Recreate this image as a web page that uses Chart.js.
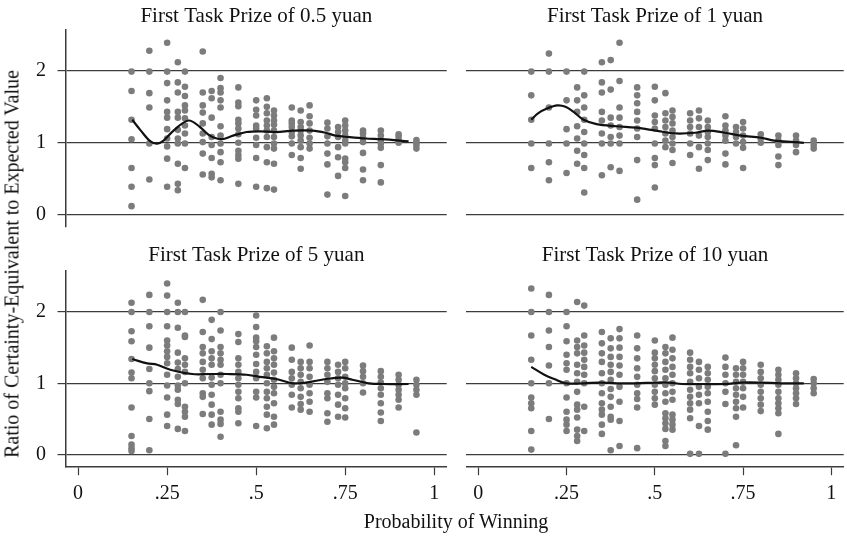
<!DOCTYPE html>
<html>
<head>
<meta charset="utf-8">
<script src="https://cdn.jsdelivr.net/npm/chart.js@4.4.1/dist/chart.umd.min.js"></script>
<style>
html,body{margin:0;padding:0;background:#fff;}
#wrap{position:relative;width:847px;height:536px;overflow:hidden;background:#fff;font-family:"Liberation Serif","Times New Roman",serif;color:#111;}
canvas{position:absolute;}
.ytitle{position:absolute;left:12px;top:264px;transform:translate(-50%,-50%) rotate(-90deg);white-space:nowrap;font-size:20px;line-height:normal;}
.xtitle{position:absolute;left:456px;top:521px;transform:translate(-50%,-50%);white-space:nowrap;font-size:20px;line-height:normal;}
</style>
</head>
<body>
<div id="wrap">
  <canvas id="cTL" width="430" height="232" style="left:20px;top:0px;"></canvas>
  <canvas id="cTR" width="384" height="232" style="left:463px;top:0px;"></canvas>
  <canvas id="cBL" width="430" height="301" style="left:20px;top:235px;"></canvas>
  <canvas id="cBR" width="384" height="301" style="left:463px;top:235px;"></canvas>
  <div class="ytitle" id="ytitle"></div>
  <div class="xtitle" id="xtitle"></div>
</div>
<script>
// ---------- data ----------
const panelTitles = ["First Task Prize of 0.5 yuan", "First Task Prize of 1 yuan", "First Task Prize of 5 yuan", "First Task Prize of 10 yuan"];
const yAxisTitle = "Ratio of Certainty-Equivalent to Expected Value";
const xAxisTitle = "Probability of Winning";
const xTicks = [0, 0.25, 0.5, 0.75, 1];
const xTickLabels = ["0", ".25", ".5", ".75", "1"];
const yTicks = [0, 1, 2];
const yTickLabels = ["0", "1", "2"];

// probabilities of winning (x categories)
const probs = [0.15, 0.2, 0.25, 0.28, 0.3, 0.35, 0.375, 0.4, 0.45, 0.5, 0.53, 0.55, 0.6, 0.625, 0.65, 0.7, 0.73, 0.75, 0.8, 0.85, 0.9, 0.95];

// ratios per probability, prize 0.5 yuan
const ceHalf = [
  [1.99,1.72,1.32,1.05,0.65,0.39,0.12],
  [2.28,1.99,1.69,1.49,0.99,0.49],
  [2.39,1.99,1.83,1.59,1.43,1.35,1.19,1.06,0.95,0.78,0.39],
  [2.12,1.84,1.70,1.43,1.35,1.18,1.06,0.99,0.71,0.43,0.34],
  [1.99,1.78,1.65,1.52,1.45,1.34,1.24,1.13,0.99,0.65],
  [2.27,1.70,1.52,1.42,1.27,1.13,1.01,0.85,0.56],
  [1.72,1.62,1.35,1.08,0.97,0.79,0.57,0.52],
  [1.90,1.76,1.70,1.59,1.49,1.23,1.10,0.99,0.87,0.73,0.48],
  [1.77,1.56,1.51,1.32,1.27,1.20,1.12,1.00,0.89,0.83,0.78,0.43],
  [1.59,1.46,1.38,1.24,1.20,1.07,0.97,0.79,0.39],
  [1.62,1.50,1.41,1.31,1.24,1.17,1.08,0.94,0.73,0.37],
  [1.45,1.38,1.31,1.25,1.17,1.08,0.99,0.92,0.71,0.35],
  [1.49,1.31,1.27,1.22,1.15,1.09,0.99,0.83],
  [1.45,1.29,1.22,1.17,1.10,1.03,0.94,0.79,0.64],
  [1.52,1.37,1.27,1.17,1.07,0.99,0.92],
  [1.28,1.20,1.09,0.99,0.85,0.70,0.28],
  [1.22,1.15,1.08,0.94,0.80,0.54],
  [1.31,1.24,1.17,1.10,1.03,0.99,0.78,0.73,0.65,0.26],
  [1.17,1.13,1.07,1.01,0.86,0.63,0.48],
  [1.17,1.10,1.03,0.99,0.93,0.69,0.45],
  [1.12,1.08,1.03,1.00],
  [1.04,1.00,0.97,0.92]
];
// prize 1 yuan
const ceOne = [
  [1.99,1.66,1.32,0.99,0.65],
  [2.24,1.99,1.49,0.99,0.73,0.48],
  [1.99,1.59,1.19,0.99,0.58],
  [1.77,1.59,1.43,1.23,1.06,0.89,0.71],
  [1.99,1.66,1.49,1.32,1.15,0.99,0.83,0.65,0.31],
  [2.12,1.84,1.70,1.43,1.31,1.13,0.99,0.55],
  [2.15,1.74,1.35,1.24,1.08,0.99,0.66],
  [2.39,1.86,1.49,1.35,1.22,1.10,0.99,0.61],
  [1.77,1.66,1.55,1.43,1.31,1.20,1.08,0.76,0.21],
  [1.78,1.59,1.38,1.29,1.20,0.99,0.79,0.69,0.38],
  [1.69,1.41,1.31,1.22,1.13,1.03,0.94],
  [1.45,1.36,1.27,1.17,1.08,0.99,0.90,0.72],
  [1.41,1.31,1.22,1.13,0.99,0.83],
  [1.45,1.34,1.22,1.10,0.94,0.64],
  [1.31,1.22,1.15,1.08,0.99,0.90,0.76],
  [1.37,1.24,1.17,1.10,1.03,0.85,0.70],
  [1.22,1.15,1.08,0.99],
  [1.29,1.20,1.10,1.01,0.93,0.65],
  [1.12,1.06,1.00],
  [1.10,1.03,0.97,0.81,0.69],
  [1.10,1.03,0.97,0.87],
  [1.03,0.97,0.92]
];
// prize 5 yuan
const ceFive = [
  [2.13,2.00,1.73,1.59,1.34,1.15,1.07,0.66,0.26,0.14,0.09,0.05],
  [2.24,2.00,1.80,1.50,1.20,1.00,0.89,0.50,0.06],
  [2.40,2.23,2.00,1.80,1.60,1.53,1.45,1.37,1.28,1.12,0.97,0.80,0.56,0.40],
  [2.13,2.00,1.78,1.43,1.29,1.20,1.09,0.97,0.91,0.77,0.71,0.36],
  [2.00,1.67,1.65,1.35,1.26,1.16,1.00,0.67,0.60,0.53,0.33],
  [2.17,1.72,1.51,1.42,1.30,1.19,1.07,0.86,0.81,0.57],
  [1.89,1.62,1.45,1.35,1.26,1.08,0.98,0.84,0.70,0.56,0.42],
  [2.00,1.74,1.51,1.42,1.33,1.26,1.12,1.00,0.60,0.49,0.43,0.25],
  [1.69,1.58,1.35,1.26,1.16,1.07,0.98,0.88,0.79,0.65,0.60,0.44],
  [1.95,1.79,1.64,1.59,1.51,1.40,1.27,1.16,1.07,0.88,0.80,0.40],
  [1.52,1.42,1.30,1.21,1.12,1.00,0.88,0.79,0.67,0.56,0.37],
  [1.64,1.45,1.35,1.26,1.15,1.05,0.95,0.86,0.72,0.53,0.42],
  [1.50,1.33,1.16,1.07,0.98,0.84,0.66],
  [1.30,1.21,1.12,1.02,0.93,0.81,0.71,0.63],
  [1.53,1.30,1.21,1.09,0.98,0.86,0.74,0.60],
  [1.30,1.21,1.12,1.02,0.86,0.79,0.58,0.46],
  [1.26,1.16,1.07,0.98,0.84,0.70,0.53],
  [1.30,1.21,1.09,1.00,0.93,0.79,0.65,0.52],
  [1.25,1.17,1.09,1.00,0.87],
  [1.17,1.09,1.01,0.93,0.84,0.72,0.59,0.47],
  [1.12,1.05,0.98,0.91,0.84,0.77,0.66],
  [1.05,0.98,0.91,0.84,0.31]
];
// prize 10 yuan
const ceTen = [
  [2.33,2.00,1.67,1.33,1.00,0.80,0.72,0.65,0.33,0.07],
  [2.24,2.00,1.74,1.51,1.25,1.00,0.50],
  [2.00,1.80,1.59,1.40,1.28,1.19,1.00,0.80,0.60,0.49,0.42,0.33],
  [2.14,1.60,1.51,1.42,1.26,1.14,1.02,0.88,0.70,0.63,0.52,0.35,0.26,0.19],
  [2.09,1.67,1.53,1.43,1.33,1.23,1.12,1.00,0.67,0.33],
  [1.72,1.56,1.42,1.30,1.14,1.00,0.86,0.72,0.63,0.56,0.42,0.29],
  [1.63,1.49,1.37,1.26,1.16,1.05,0.92,0.81,0.67,0.53,0.49,0.06],
  [1.76,1.63,1.50,1.37,1.25,1.12,0.95,0.74,0.47,0.12],
  [1.67,1.49,1.35,1.21,1.09,0.98,0.86,0.78,0.66,0.09],
  [1.60,1.43,1.35,1.26,1.17,1.07,0.98,0.88,0.79,0.70],
  [1.51,1.42,1.30,1.19,1.07,0.98,0.86,0.74,0.58,0.51,0.44,0.36,0.19,0.12],
  [1.64,1.47,1.35,1.23,1.12,1.00,0.88,0.77,0.56,0.49,0.42,0.35],
  [1.43,1.33,1.23,1.14,1.02,0.91,0.81,0.72,0.63,0.51,0.01],
  [1.30,1.19,1.07,0.95,0.84,0.72,0.40,0.01],
  [1.23,1.14,1.05,0.95,0.86,0.74,0.60,0.47,0.35],
  [1.36,1.23,1.12,1.00,0.88,0.71,0.01],
  [1.21,1.12,1.02,0.93,0.84,0.74,0.65,0.53,0.13],
  [1.30,1.21,1.12,1.02,0.93,0.81,0.66],
  [1.26,1.16,1.07,0.98,0.88,0.79,0.70,0.61],
  [1.19,1.12,1.05,0.98,0.88,0.79,0.72,0.65,0.58,0.29],
  [1.14,1.07,1.00,0.93,0.86,0.79,0.71],
  [1.06,1.00,0.93,0.86]
];

// smoothed (lowess) curves
const fitHalfX = [0.152,0.176,0.203,0.222,0.24,0.268,0.31,0.342,0.37,0.403,0.435,0.473,0.51,0.556,0.603,0.658,0.695,0.723,0.76,0.807,0.853,0.928];
const fitHalfY = [1.32,1.17,1.02,0.99,1.03,1.17,1.31,1.22,1.10,1.05,1.10,1.15,1.16,1.15,1.17,1.17,1.14,1.10,1.08,1.06,1.05,1.02];
const fitOneX = [0.15,0.169,0.196,0.224,0.247,0.27,0.298,0.335,0.391,0.447,0.503,0.559,0.615,0.652,0.698,0.745,0.801,0.838,0.894,0.922];
const fitOneY = [1.32,1.41,1.48,1.52,1.50,1.43,1.32,1.26,1.23,1.21,1.17,1.13,1.14,1.17,1.14,1.10,1.07,1.03,1.01,1.00];
const fitFiveX = [0.152,0.194,0.222,0.259,0.32,0.371,0.417,0.473,0.51,0.556,0.603,0.64,0.696,0.742,0.77,0.817,0.854,0.928];
const fitFiveY = [1.34,1.28,1.26,1.19,1.13,1.13,1.13,1.12,1.09,1.06,1.00,1.01,1.06,1.08,1.05,1.00,0.99,0.99];
const fitTenX = [0.15,0.187,0.215,0.248,0.299,0.345,0.392,0.447,0.503,0.54,0.577,0.633,0.698,0.745,0.801,0.856,0.922];
const fitTenY = [1.23,1.12,1.06,1.00,1.00,1.01,1.00,1.00,1.01,1.01,0.99,0.99,0.99,1.01,1.01,1.00,1.00];

// ---------- rendering ----------
const FONT = "'Liberation Serif', 'Times New Roman', serif";
const INK = '#111111';
const LINE = '#3c3c3c';
const DOT = '#7c7c7c';
const Y_MIN = -0.17, Y_MAX = 2.575, X_MIN = -0.034, X_MAX = 1.035;

document.getElementById('ytitle').textContent = yAxisTitle;
document.getElementById('xtitle').textContent = xAxisTitle;

function toPoints(cols) {
  const out = [];
  cols.forEach((ys, i) => ys.forEach(y => out.push({x: probs[i], y: y})));
  return out;
}
function toCurve(xs, ys) { return xs.map((x, i) => ({x: x, y: ys[i]})); }
function noPad(s) { s.paddingTop = 0; s.paddingBottom = 0; s.paddingLeft = 0; s.paddingRight = 0; }

function makePanel(id, title, cols, fx, fy, isLeft, isBottom) {
  const ctx = document.getElementById(id);
  new Chart(ctx, {
    type: 'scatter',
    data: {
      datasets: [
        { data: toCurve(fx, fy), showLine: true, borderColor: '#111', borderWidth: 2.2,
          pointRadius: 0, tension: 0.35, fill: false, order: 0 },
        { data: toPoints(cols), backgroundColor: DOT, borderWidth: 0, pointRadius: 3.3,
          pointHoverRadius: 3.3, order: 1 }
      ]
    },
    options: {
      responsive: false, animation: false, devicePixelRatio: 1,
      layout: { padding: { left: 0, right: isLeft ? 1 : 0, top: 0, bottom: isBottom ? 0 : 5 } },
      plugins: {
        legend: { display: false },
        tooltip: { enabled: false },
        title: {
          display: true, text: title, fullSize: false, color: INK,
          font: { family: FONT, size: 21, weight: 'normal', lineHeight: 1.2 },
          padding: isBottom ? { top: 8, bottom: 2.8 } : { top: 4.3, bottom: 0 }
        }
      },
      scales: {
        x: {
          type: 'linear', min: X_MIN, max: X_MAX, display: isBottom,
          afterBuildTicks: (s) => { s.ticks = xTicks.map(v => ({value: v})); },
          afterFit: (s) => { if (isBottom) s.height = 69.3; noPad(s); },
          grid: { drawOnChartArea: false, drawTicks: true, tickLength: 8.5, tickColor: LINE, tickWidth: 1.2 },
          border: { display: true, color: LINE, width: 1.5 },
          ticks: { color: INK, padding: 7, maxRotation: 0, autoSkip: false,
                   font: { family: FONT, size: 20 },
                   callback: (v) => { const i = xTicks.indexOf(v); return i >= 0 ? xTickLabels[i] : ''; } }
        },
        y: {
          type: 'linear', min: Y_MIN, max: Y_MAX, display: true,
          afterBuildTicks: (s) => { s.ticks = yTicks.map(v => ({value: v})); },
          afterFit: (s) => { s.width = isLeft ? 46 : 0; noPad(s); },
          grid: { drawOnChartArea: true, color: LINE, lineWidth: 1.2, drawTicks: isLeft,
                  tickLength: 8.5, tickColor: LINE, tickWidth: 1.2 },
          border: { display: isLeft, color: LINE, width: 1.5 },
          ticks: { display: isLeft, color: INK, padding: 11.5, font: { family: FONT, size: 20 },
                   callback: (v) => { const i = yTicks.indexOf(v); return i >= 0 ? yTickLabels[i] : ''; } }
        }
      }
    }
  });
}

makePanel('cTL', panelTitles[0], ceHalf, fitHalfX, fitHalfY, true, false);
makePanel('cTR', panelTitles[1], ceOne, fitOneX, fitOneY, false, false);
makePanel('cBL', panelTitles[2], ceFive, fitFiveX, fitFiveY, true, true);
makePanel('cBR', panelTitles[3], ceTen, fitTenX, fitTenY, false, true);
</script>
</body>
</html>
